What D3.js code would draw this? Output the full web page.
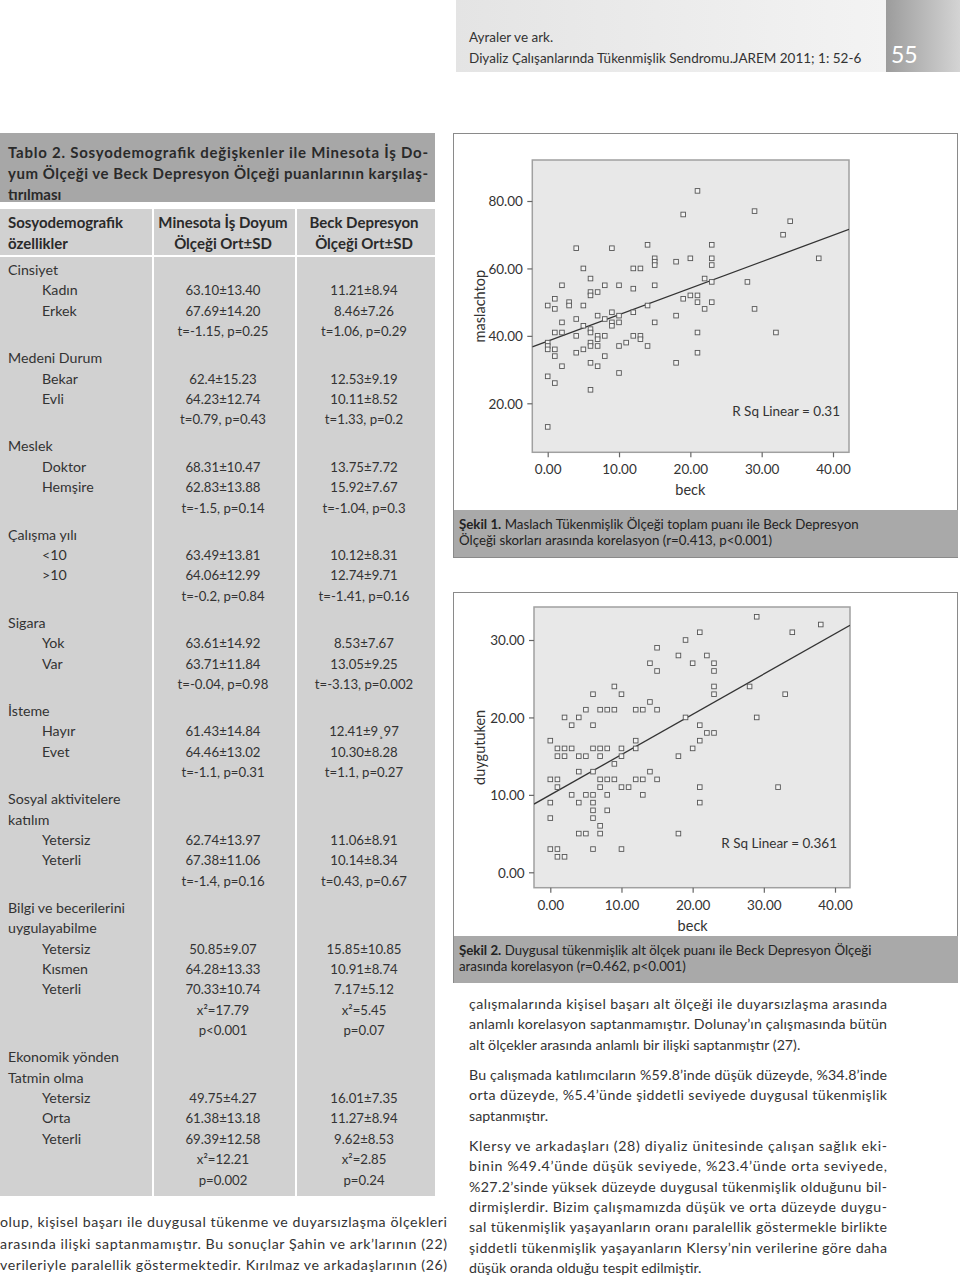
<!DOCTYPE html>
<html><head><meta charset="utf-8">
<script src="https://cdn.jsdelivr.net/npm/d3@7"></script>
<style>body{margin:0;background:#fff}svg{display:block}text{font-family:Lato,"Open Sans",sans-serif}</style>
</head><body><svg id="c" width="960" height="1277"></svg>
<script>
// ---------- DATA ----------
const headerLines = ["Ayraler ve ark.", "Diyaliz Çalışanlarında Tükenmişlik Sendromu.JAREM 2011; 1: 52-6"];
const pageNumber = "55";
const tableTitle = ["Tablo 2. Sosyodemografik değişkenler ile Minesota İş Do-",
  "yum Ölçeği ve Beck Depresyon Ölçeği puanlarının karşılaş-", "tırılması"];
const tableHeads = [["Sosyodemografik", "özellikler"], ["Minesota İş Doyum", "Ölçeği Ort±SD"], ["Beck Depresyon", "Ölçeği Ort±SD"]];
const groupTitles = [["Cinsiyet"], ["Medeni Durum"], ["Meslek"], ["Çalışma yılı"], ["Sigara"], ["İsteme"],
  ["Sosyal aktivitelere", "katılım"], ["Bilgi ve becerilerini", "uygulayabilme"], ["Ekonomik yönden", "Tatmin olma"]];
const groupRows = [
  [["Kadın", "63.10±13.40", "11.21±8.94"], ["Erkek", "67.69±14.20", "8.46±7.26"]],
  [["Bekar", "62.4±15.23", "12.53±9.19"], ["Evli", "64.23±12.74", "10.11±8.52"]],
  [["Doktor", "68.31±10.47", "13.75±7.72"], ["Hemşire", "62.83±13.88", "15.92±7.67"]],
  [["<10", "63.49±13.81", "10.12±8.31"], [">10", "64.06±12.99", "12.74±9.71"]],
  [["Yok", "63.61±14.92", "8.53±7.67"], ["Var", "63.71±11.84", "13.05±9.25"]],
  [["Hayır", "61.43±14.84", "12.41±9¸97"], ["Evet", "64.46±13.02", "10.30±8.28"]],
  [["Yetersiz", "62.74±13.97", "11.06±8.91"], ["Yeterli", "67.38±11.06", "10.14±8.34"]],
  [["Yetersiz", "50.85±9.07", "15.85±10.85"], ["Kısmen", "64.28±13.33", "10.91±8.74"], ["Yeterli", "70.33±10.74", "7.17±5.12"]],
  [["Yetersiz", "49.75±4.27", "16.01±7.35"], ["Orta", "61.38±13.18", "11.27±8.94"], ["Yeterli", "69.39±12.58", "9.62±8.53"]]
];
const groupStats = [
  [["t=-1.15, p=0.25", "t=1.06, p=0.29"]],
  [["t=0.79, p=0.43", "t=1.33, p=0.2"]],
  [["t=-1.5, p=0.14", "t=-1.04, p=0.3"]],
  [["t=-0.2, p=0.84", "t=-1.41, p=0.16"]],
  [["t=-0.04, p=0.98", "t=-3.13, p=0.002"]],
  [["t=-1.1, p=0.31", "t=1.1, p=0.27"]],
  [["t=-1.4, p=0.16", "t=0.43, p=0.67"]],
  [["x²=17.79", "x²=5.45"], ["p<0.001", "p=0.07"]],
  [["x²=12.21", "x²=2.85"], ["p=0.002", "p=0.24"]]
];

// Figure 1: beck vs maslachtop
const fig1Points = [[21,83],[19,76],[29,77],[34,74],[33,70],[38,63],[4,66],[9,66],[14,67],[23,67],[23,63],[23,61],[23,56],[23,50],
  [20,63],[18,62],[15,63],[15,62],[15,61],[5,60],[12,60],[13,60],[6,57],[2,55],[8,55],[10,55],[15,55],[12,54],[22,57],[28,56],
  [6,53],[6,52],[7,53],[19,51],[20,52],[21,52],[21,50],[22,48],[29,48],[1,51],[3,50],[3,49],[0,49],[1,48],[5,49],[14,49],
  [9,47],[12,47],[18,46],[7,46],[10,46],[4,45],[8,45],[2,44],[9,44],[9,43],[10,44],[15,44],[5,43],
  [6,42],[6,41],[7,40],[7,39],[1,41],[2,41],[4,40],[8,40],[12,40],[13,40],[13,39],[21,41],[32,41],
  [6,38],[6,37],[7,37],[0,38],[0,37],[0,36],[1,36],[5,36],[10,37],[11,38],[14,37],[4,35],[8,34],[1,34],[21,35],
  [2,31],[6,32],[7,31],[18,32],[10,29],[0,28],[1,26],[6,24],[0,13]];
const fig1Fit = {intercept: 38.4, slope: 0.786};
const fig1XTicks = [0, 10, 20, 30, 40];
const fig1YTicks = [20, 40, 60, 80];
const fig1Labels = {x: "beck", y: "maslachtop", r2: "R Sq Linear = 0.31"};
const fig1Caption = [["Şekil 1.", " Maslach Tükenmişlik Ölçeği toplam puanı ile Beck Depresyon"], ["", "Ölçeği skorları arasında korelasyon (r=0.413, p<0.001)"]];

// Figure 2: beck vs duygutuken
const fig2Points = [[29,33],[38,32],[34,31],[21,31],[19,30],[15,29],[18,28],[22,28],[14,27],[20,27],[23,27],[15,26],[23,26],
  [9,24],[23,24],[28,24],[6,23],[10,23],[23,23],[33,23],[14,22],[5,21],[7,21],[8,21],[9,21],[12,21],[13,21],[15,21],
  [2,20],[4,20],[19,20],[29,20],[3,19],[6,19],[21,19],[22,18],[23,18],[0,17],[12,17],[21,17],
  [1,16],[2,16],[3,16],[6,16],[7,16],[8,16],[10,16],[12,16],[20,16],
  [1,15],[2,15],[4,15],[5,15],[7,15],[10,15],[18,15],[9,14],[4,13],[6,13],[14,13],
  [0,12],[1,12],[7,12],[8,12],[9,12],[12,12],[13,12],[15,12],[1,11],[7,11],[10,11],[11,11],[21,11],[32,11],
  [3,10],[5,10],[6,10],[8,10],[13,10],[0,9],[4,9],[6,9],[21,9],[6,8],[8,8],[0,7],[6,7],[7,6],
  [4,5],[5,5],[7,5],[18,5],[0,3],[1,3],[6,3],[10,3],[1,2],[2,2]];
const fig2Fit = {intercept: 10.0, slope: 0.52};
const fig2XTicks = [0, 10, 20, 30, 40];
const fig2YTicks = [0, 10, 20, 30];
const fig2Labels = {x: "beck", y: "duygutuken", r2: "R Sq Linear = 0.361"};
const fig2Caption = [["Şekil 2.", " Duygusal tükenmişlik alt ölçek puanı ile Beck Depresyon Ölçeği"], ["", "arasında korelasyon (r=0.462, p<0.001)"]];

const rightText = [
  ["çalışmalarında kişisel başarı alt ölçeği ile duyarsızlaşma arasında", "anlamlı korelasyon saptanmamıştır. Dolunay’ın çalışmasında bütün", "alt ölçekler arasında anlamlı bir ilişki saptanmıştır (27)."],
  ["Bu çalışmada katılımcıların %59.8’inde düşük düzeyde, %34.8’inde", "orta düzeyde, %5.4’ünde şiddetli seviyede duygusal tükenmişlik", "saptanmıştır."],
  ["Klersy ve arkadaşları (28) diyaliz ünitesinde çalışan sağlık eki-", "binin %49.4’ünde düşük seviyede, %23.4’ünde orta seviyede,", "%27.2’sinde yüksek düzeyde duygusal tükenmişlik olduğunu bil-", "dirmişlerdir. Bizim çalışmamızda düşük ve orta düzeyde duygu-", "sal tükenmişlik yaşayanların oranı paralellik göstermekle birlikte", "şiddetli tükenmişlik yaşayanların Klersy’nin verilerine göre daha", "düşük oranda olduğu tespit edilmiştir."]
];
const leftText = ["olup, kişisel başarı ile duygusal tükenme ve duyarsızlaşma ölçekleri", "arasında ilişki saptanmamıştır. Bu sonuçlar Şahin ve ark’larının (22)", "verileriyle paralellik göstermektedir. Kırılmaz ve arkadaşlarının (26)"];

// ---------- DRAW ----------
const svg = d3.select("#c");
const defs = svg.append("defs");
const g1 = defs.append("linearGradient").attr("id", "band");
g1.append("stop").attr("offset", "0").attr("stop-color", "#e4e4e4");
g1.append("stop").attr("offset", "1").attr("stop-color", "#f3f3f3");
const g2 = defs.append("linearGradient").attr("id", "pageblk");
g2.append("stop").attr("offset", "0").attr("stop-color", "#9c9c9c");
g2.append("stop").attr("offset", "1").attr("stop-color", "#d4d4d4");

// header
svg.append("rect").attr("x", 456).attr("y", 0).attr("width", 430).attr("height", 72).attr("fill", "url(#band)");
svg.append("rect").attr("x", 886).attr("y", 0).attr("width", 74).attr("height", 72).attr("fill", "url(#pageblk)");
svg.selectAll("text.hdr").data(headerLines).join("text").attr("class", "hdr")
  .attr("x", 469).attr("y", (d, i) => 42 + i * 20.5).attr("font-size", 13.5).attr("fill", "#333").text(d => d);
svg.append("text").attr("x", 891).attr("y", 63).attr("font-size", 23).attr("fill", "#fff").text(pageNumber);

// table title
const TX = 0, TW = 435;
svg.append("rect").attr("x", TX).attr("y", 133).attr("width", TW).attr("height", 69).attr("fill", "#a7a7a7");
svg.selectAll("text.tt").data(tableTitle).join("text").attr("class", "tt")
  .attr("x", 8).attr("y", (d, i) => 158 + i * 21).attr("font-size", 15).attr("font-weight", 700).attr("fill", "#2a2a2a")
  .text(d => d).each(function (d, i) { if (i < 2) d3.select(this).attr("textLength", 420).attr("lengthAdjust", "spacing"); });

// table body
svg.append("rect").attr("x", TX).attr("y", 209).attr("width", TW).attr("height", 987).attr("fill", "#d1d1d1");
svg.append("line").attr("x1", 0).attr("x2", TW).attr("y1", 256).attr("y2", 256).attr("stroke", "#fff").attr("stroke-width", 2);
[153, 296].forEach(x => svg.append("line").attr("x1", x).attr("x2", x).attr("y1", 209).attr("y2", 1196).attr("stroke", "#fff").attr("stroke-width", 2));
const colX = [8, 223, 364];
tableHeads.forEach((h, c) => h.forEach((t, i) => svg.append("text")
  .attr("x", colX[c]).attr("y", 228 + i * 21).attr("font-size", 15).attr("font-weight", 700)
  .attr("text-anchor", c === 0 ? "start" : "middle").attr("fill", "#2a2a2a").text(t)));

const step = 20.4, gap = 6.6;
let y = 275;
const tFont = 14.2, nFont = 13.2, tCol = "#333";
groupTitles.forEach((titles, gi) => {
  titles.forEach(t => { svg.append("text").attr("x", 8).attr("y", y).attr("font-size", tFont).attr("fill", tCol).text(t); y += step; });
  groupRows[gi].forEach(r => {
    svg.append("text").attr("x", 42).attr("y", y).attr("font-size", tFont).attr("fill", tCol).text(r[0]);
    svg.append("text").attr("x", colX[1]).attr("y", y).attr("font-size", nFont).attr("text-anchor", "middle").attr("fill", tCol).text(r[1]);
    svg.append("text").attr("x", colX[2]).attr("y", y).attr("font-size", nFont).attr("text-anchor", "middle").attr("fill", tCol).text(r[2]);
    y += step;
  });
  groupStats[gi].forEach(s => {
    svg.append("text").attr("x", colX[1]).attr("y", y).attr("font-size", nFont).attr("text-anchor", "middle").attr("fill", tCol).text(s[0]);
    svg.append("text").attr("x", colX[2]).attr("y", y).attr("font-size", nFont).attr("text-anchor", "middle").attr("fill", tCol).text(s[1]);
    y += step;
  });
  y += gap;
});

// scatter plots
function scatter(cfg) {
  const {box, frame, xr, yr, xd, yd, points, fit, xTicks, yTicks, labels, r2pos, caption, capY} = cfg;
  svg.append("rect").attr("x", box[0]).attr("y", box[1]).attr("width", box[2]).attr("height", box[3])
    .attr("fill", "none").attr("stroke", "#8a8a8a").attr("stroke-width", 1);
  const x = d3.scaleLinear().domain(xd).range(xr);
  const yS = d3.scaleLinear().domain(yd).range(yr);
  const [fx0, fy0, fx1, fy1] = frame;
  svg.append("rect").attr("x", fx0).attr("y", fy0).attr("width", fx1 - fx0).attr("height", fy1 - fy0)
    .attr("fill", "#e8e8e8").attr("stroke", "#a0a0a0").attr("stroke-width", 1.5);
  const ax = svg.append("g").attr("transform", `translate(0,${fy1})`)
    .call(d3.axisBottom(x).tickValues(xTicks).tickFormat(d3.format(".2f")).tickSize(5).tickSizeOuter(0));
  const ay = svg.append("g").attr("transform", `translate(${fx0},0)`)
    .call(d3.axisLeft(yS).tickValues(yTicks).tickFormat(d3.format(".2f")).tickSize(5).tickSizeOuter(0));
  [ax, ay].forEach(a => {
    a.select(".domain").remove();
    a.selectAll("line").attr("stroke", "#666").attr("stroke-width", 1.2);
    a.selectAll("text").attr("font-family", "Lato, sans-serif").attr("font-size", 13.5).attr("fill", "#333");
  });
  ax.selectAll("text").attr("dy", "1.05em");
  ay.selectAll("text").attr("dx", "-0.1em").attr("dy", "0.35em");
  const clipId = "clip" + Math.round(fx0 + fy0);
  defs.append("clipPath").attr("id", clipId).append("rect").attr("x", fx0).attr("y", fy0).attr("width", fx1 - fx0).attr("height", fy1 - fy0);
  const bx0 = x.invert(fx0), bx1 = x.invert(fx1);
  svg.append("line").attr("clip-path", `url(#${clipId})`)
    .attr("x1", x(bx0)).attr("y1", yS(fit.intercept + fit.slope * bx0))
    .attr("x2", x(bx1)).attr("y2", yS(fit.intercept + fit.slope * bx1))
    .attr("stroke", "#333").attr("stroke-width", 1.3);
  svg.append("g").selectAll("rect").data(points).join("rect")
    .attr("x", d => x(d[0]) - 2.3).attr("y", d => yS(d[1]) - 2.3).attr("width", 4.6).attr("height", 4.6)
    .attr("fill", "#f4f4f4").attr("stroke", "#555").attr("stroke-width", 0.9);
  svg.append("text").attr("x", r2pos[0]).attr("y", r2pos[1]).attr("font-size", 13.5).attr("text-anchor", "end").attr("fill", "#333").text(labels.r2);
  svg.append("text").attr("x", (xr[0] + xr[1]) / 2).attr("y", fy1 + 43).attr("font-size", 14.5).attr("text-anchor", "middle").attr("fill", "#333").text(labels.x);
  svg.append("text").attr("transform", `translate(485,${(fy0 + fy1) / 2}) rotate(-90)`).attr("font-size", 14.5).attr("text-anchor", "middle").attr("fill", "#333").text(labels.y);
  svg.append("rect").attr("x", 454).attr("y", capY).attr("width", 504).attr("height", 47).attr("fill", "#a9a9a9");
  caption.forEach((c, i) => {
    const t = svg.append("text").attr("x", 459).attr("y", capY + 19 + i * 15.5).attr("font-size", 13.3).attr("fill", "#222");
    if (c[0]) t.append("tspan").attr("font-weight", 700).text(c[0]);
    t.append("tspan").text(c[1]);
  });
}
scatter({box: [453.5, 133.5, 504, 424], frame: [532.3, 160, 849, 452.3], xr: [547.7, 833], yr: [403.3, 201], xd: [0, 40], yd: [20, 80],
  points: fig1Points, fit: fig1Fit, xTicks: fig1XTicks, yTicks: fig1YTicks, labels: fig1Labels, r2pos: [840, 416], caption: fig1Caption, capY: 510});
scatter({box: [453.5, 592.5, 504, 390], frame: [534, 607, 850, 887.7], xr: [550.3, 835], yr: [872.3, 640], xd: [0, 40], yd: [0, 30],
  points: fig2Points, fit: fig2Fit, xTicks: fig2XTicks, yTicks: fig2YTicks, labels: fig2Labels, r2pos: [837, 848], caption: fig2Caption, capY: 936});

// body text
const rightStarts = [1009, 1080, 1151];
rightText.forEach((p, pi) => p.forEach((l, li) => {
  const t = svg.append("text").attr("x", 469).attr("y", rightStarts[pi] + li * 20.3).attr("font-size", 14.2).attr("fill", "#333").text(l);
  if (li < p.length - 1) t.attr("textLength", 418).attr("lengthAdjust", "spacing");
}));
leftText.forEach((l, li) => svg.append("text").attr("x", 0).attr("y", 1227 + li * 21.5).attr("font-size", 14.2).attr("fill", "#333")
  .attr("textLength", 447).attr("lengthAdjust", "spacing").text(l));
</script></body></html>
